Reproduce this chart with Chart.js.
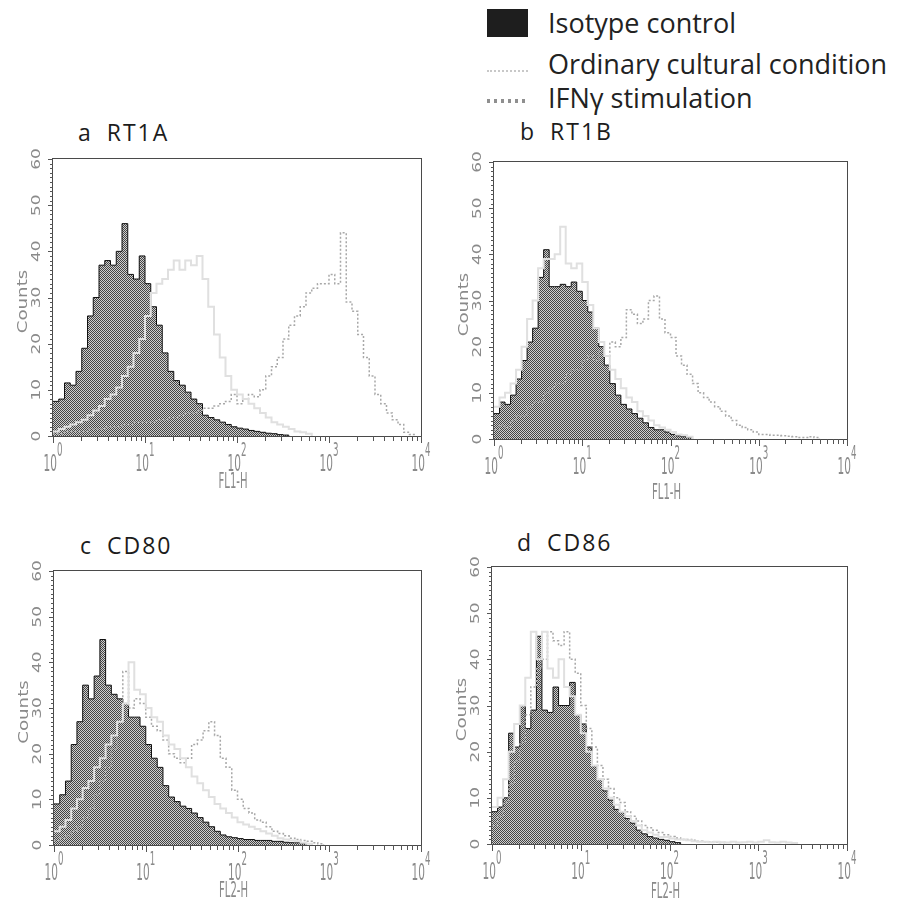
<!DOCTYPE html>
<html>
<head>
<meta charset="utf-8">
<script src="https://cdn.jsdelivr.net/npm/chart.js@4.4.0/dist/chart.umd.min.js"></script>
<style>
  body { margin: 0; width: 900px; height: 911px; background: #fff; position: relative; overflow: hidden; font-family: 'Open Sans', sans-serif; }
  canvas { position: absolute; }
  .title { position: absolute; font-size: 23px; line-height: 23px; color: #1c1c1c; white-space: pre; letter-spacing: 2px; word-spacing: -1px; }
  .legend-text { position: absolute; left: 548px; font-size: 27px; line-height: 27px; color: #222; white-space: nowrap; }
  .swatch { position: absolute; left: 487px; width: 41px; }
</style>
</head>
<body>
<div class="swatch" style="top:9px;height:28px;background:#1e1e1e"></div>
<div class="swatch" style="top:70px;height:0;border-top:2px dotted #c8c8c8"></div>
<div class="swatch" style="top:99px;height:4px;background:repeating-linear-gradient(90deg,#8f8f8f 0 3px,transparent 3px 7px)"></div>
<div class="legend-text" id="leg0" style="top:9px"></div>
<div class="legend-text" id="leg1" style="top:50px"></div>
<div class="legend-text" id="leg2" style="top:84px"></div>

<div class="title" id="titleA" style="left:78px;top:121px"></div>
<div class="title" id="titleB" style="left:520px;top:120px"></div>
<div class="title" id="titleC" style="left:80px;top:534px"></div>
<div class="title" id="titleD" style="left:517px;top:531px"></div>

<canvas id="chartA" width="450" height="365" style="left:0;top:140px"></canvas>
<canvas id="chartB" width="450" height="370" style="left:450px;top:140px"></canvas>
<canvas id="chartC" width="450" height="361" style="left:0;top:550px"></canvas>
<canvas id="chartD" width="450" height="361" style="left:450px;top:550px"></canvas>

<script>
// labels
const seriesNames = ['Isotype control', 'Ordinary cultural condition', 'IFNγ stimulation'];
const panelTitles = ['a  RT1A', 'b  RT1B', 'c  CD80', 'd  CD86'];
const axisTitles = ['FL1-H', 'FL1-H', 'FL2-H', 'FL2-H'];
const decadeTicks = [1, 10, 100, 1000, 10000];
const countTicks = [0, 10, 20, 30, 40, 50, 60];

// histogram counts, 16 channels per decade starting at 10^0
const binsPerDecade = 16;

const rt1aIsotype = [7.5, 8, 11.5, 11, 14, 19, 26, 30, 37, 38, 37, 40, 46, 35, 34, 39, 33, 28, 24, 18, 14, 12, 11, 9.5, 8, 7, 4.5, 4, 3.5, 3, 2.5, 2, 1.7, 1.5, 1.2, 1, 0.8, 0.6, 0.5, 0.3, 0.2];
const rt1aOrdinary = [1, 1.5, 2, 2.5, 3, 3.5, 4.5, 5.5, 6.5, 8, 9, 10.5, 13, 15, 18, 21, 26, 31, 33, 34, 36, 38, 36, 38, 37, 39, 34, 28, 22, 17, 13, 10, 9, 8, 7, 6, 5, 4, 3, 2.5, 2, 1.5, 1, 0.8, 0.5];
const rt1aIfn = [0.5, 0.5, 1, 1, 1, 1, 1.5, 1.5, 1.5, 2, 2, 2, 2.5, 2.5, 3, 3, 3, 3, 3.5, 3.5, 4, 4, 4.5, 5, 5, 5.5, 6, 6, 6.5, 7, 7.5, 9, 7, 8, 9, 8.5, 10, 13, 15, 17, 21, 24, 26, 28, 31, 32, 33, 33, 35, 33, 44, 29, 27, 22, 17, 13, 9, 7, 5, 3.5, 2.5, 0.8, 0.3];

const rt1bIsotype = [5.5, 8, 7.5, 9.5, 13, 17, 21, 24, 35, 41, 33, 33, 33.5, 33, 34, 32, 30, 27.5, 24, 20, 16, 12, 9.5, 7.5, 6.5, 5.5, 4.5, 3.5, 2.5, 2, 2, 1.5, 1, 0.7, 0.5, 0.3];
const rt1bOrdinary = [7, 9, 10, 12, 15, 20, 26, 30, 37, 39, 39, 40, 46, 38, 37, 38, 34, 29, 24, 21, 18, 15, 13, 11, 9, 8, 6, 5, 4, 3, 2.5, 2, 1.5, 1, 0.8, 0.5];
const rt1bIfn = [2, 3, 2.5, 4, 5, 5, 7, 8, 8, 10, 11, 12, 12, 14, 15, 15, 17, 18, 17, 19, 18, 21, 20, 22, 28, 27, 25, 26, 30, 31, 26, 23, 22, 18, 16, 14, 12, 10, 9, 8, 7, 6, 5, 4, 3, 2.5, 2, 1.5, 1, 1, 0.8, 0.8, 0.7, 0.6, 0.5, 0.3, 0.3, 0.5, 0.3];

const cd80Isotype = [9, 11, 14, 22, 27, 35, 32, 37, 45, 35, 33, 32, 31, 28, 28, 26, 22, 19, 17, 13, 10.5, 9.5, 8.5, 8, 7, 6, 5, 4, 3, 2.2, 1.8, 1.6, 1.4, 1.2, 1.2, 1, 1, 1, 0.8, 0.8, 0.6, 0.5, 0.5, 0.3];
const cd80Ordinary = [3, 4, 5.5, 8, 10, 12.5, 14, 17, 19, 22, 24, 27, 31, 40, 34, 33, 30, 28, 27, 24, 22, 21, 19, 17, 15, 13.5, 12, 10.5, 9, 8, 7, 6, 5, 4.5, 4, 3.5, 3, 2.5, 2, 1.5, 1.2, 1, 0.8, 0.5, 0.3];
const cd80Ifn = [1, 1.5, 2, 3, 4, 6, 8, 11, 14, 17, 21, 27, 38, 30, 32, 31, 28, 26, 25, 23, 20, 19, 18, 19, 22, 23, 25, 27, 24, 19, 17, 12, 10, 8, 7, 5.5, 5, 4, 3, 2.5, 2, 1.5, 1.2, 1, 0.8, 0.5, 0.3];

const cd86Isotype = [7, 8, 10, 24, 21, 30, 25, 29, 45, 29, 28.5, 34, 30, 30, 35, 28, 26, 21, 17, 14, 11.5, 9.5, 7.5, 7, 5.5, 4.5, 3, 2.2, 1.6, 1.3, 1, 0.8, 0.5, 0.3];
const cd86Ordinary = [8, 10, 14, 20, 26, 30, 36, 46, 40, 46, 38, 36, 40, 34, 32, 28, 24, 20, 17, 14, 12, 10, 8.5, 7, 6, 5, 4, 3, 2.5, 2, 1.5, 1.5, 1.2, 1, 1, 0.8, 0.6, 0.5, 0.5, 0.4, 0.5, 0.4, 0.3, 0.5, 0.3, 0.4, 0.5, 0.3, 0.5, 0.8, 0.4, 0.3, 0.5, 0.3, 0.2];
const cd86Ifn = [4, 6, 9, 13, 18, 22, 28, 34, 38, 40, 46, 44, 43, 46, 40, 37, 30, 25, 21, 17, 14, 12, 10, 9, 7, 6, 5, 4, 3.5, 3, 2.5, 2, 1.6, 1.3, 1, 1, 0.8, 0.6, 0.5, 0.5, 0.4, 0.3];

// legend + titles
seriesNames.forEach((n, i) => { document.getElementById('leg' + i).textContent = n; });
['titleA', 'titleB', 'titleC', 'titleD'].forEach((id, i) => { document.getElementById(id).textContent = panelTitles[i]; });

function toPoints(counts) {
  const pts = counts.map((c, i) => ({ x: Math.pow(10, i / binsPerDecade), y: c }));
  pts.push({ x: Math.pow(10, counts.length / binsPerDecade), y: 0 });
  return pts;
}

// minor tick values: 1..9 in every decade, and every single count
const minorX = [];
decadeTicks.slice(0, -1).forEach(d => { for (let m = 1; m < 10; m++) minorX.push(m * d); });
minorX.push(decadeTicks[decadeTicks.length - 1]);
const minorY = [];
for (let c = countTicks[0]; c <= countTicks[countTicks.length - 1]; c++) minorY.push(c);

function stretchedText(ctx, text, x, y, o) {
  ctx.save();
  ctx.translate(x, y);
  if (o.rotate) ctx.rotate(o.rotate);
  ctx.scale(o.sx, o.sy);
  ctx.font = o.font;
  ctx.textAlign = o.align || 'center';
  ctx.textBaseline = o.baseline || 'middle';
  ctx.fillText(text, 0, 0);
  ctx.restore();
}

// frame, tick marks, tick labels and axis titles (stretched like the scanned cytometer plots)
const axisText = {
  id: 'axisText',
  afterDraw(chart, args, opts) {
    const { ctx, chartArea: a, scales: { x, y } } = chart;
    ctx.save();
    ctx.strokeStyle = '#4a4a4a';
    ctx.lineWidth = 1;
    ctx.strokeRect(a.left - 0.5, a.top - 0.5, a.right - a.left + 1, a.bottom - a.top + 1);

    ctx.strokeStyle = '#555';
    ctx.beginPath();
    minorX.forEach(v => {
      const px = Math.round(x.getPixelForValue(v)) + 0.5;
      const len = decadeTicks.includes(v) ? 7 : 5;
      ctx.moveTo(px, a.bottom);
      ctx.lineTo(px, a.bottom + len);
    });
    minorY.forEach(v => {
      const py = Math.round(y.getPixelForValue(v)) + 0.5;
      const len = v % 10 === 0 ? 5 : 3;
      ctx.moveTo(a.left - len, py);
      ctx.lineTo(a.left, py);
    });
    ctx.stroke();

    ctx.fillStyle = '#8a8a8a';
    countTicks.forEach(v => {
      stretchedText(ctx, String(v), a.left - 16, y.getPixelForValue(v),
        { font: '13px "DejaVu Sans"', sx: 1.3, sy: 1, rotate: -Math.PI / 2 });
    });

    const baseFont = '17px "DejaVu Sans"', expFont = '14px "DejaVu Sans"';
    const sx = 0.62, sy = 1.4;
    decadeTicks.forEach(v => {
      const px = x.getPixelForValue(v);
      const exp = String(Math.round(Math.log10(v)));
      ctx.font = baseFont;
      const wb = ctx.measureText('10').width * sx;
      ctx.font = expFont;
      const we = ctx.measureText(exp).width * sx;
      const start = px - (wb + we) / 2;
      stretchedText(ctx, '10', start, a.bottom + 35, { font: baseFont, sx, sy, align: 'left', baseline: 'alphabetic' });
      stretchedText(ctx, exp, start + wb, a.bottom + 20, { font: expFont, sx, sy, align: 'left', baseline: 'alphabetic' });
    });

    stretchedText(ctx, opts.xTitle, (a.left + a.right) / 2 - 4, a.bottom + opts.xTitleGap,
      { font: '14px "DejaVu Sans"', sx: 0.72, sy: 1.45 });
    stretchedText(ctx, 'Counts', a.left - 30, (a.top + a.bottom) / 2 + 4,
      { font: '14px "DejaVu Sans"', sx: 1.3, sy: 1, rotate: -Math.PI / 2 });
    ctx.restore();
  }
};

function ditherFill(ctx) {
  const tile = document.createElement('canvas');
  tile.width = 2; tile.height = 2;
  const g = tile.getContext('2d');
  g.fillStyle = '#cfcfcf';
  g.fillRect(0, 0, 2, 2);
  g.fillStyle = '#444';
  g.fillRect(0, 0, 1, 1);
  g.fillRect(1, 1, 1, 1);
  return ctx.createPattern(tile, 'repeat');
}

const panels = [
  { canvas: 'chartA', series: [rt1aIsotype, rt1aOrdinary, rt1aIfn], xTitle: axisTitles[0], padTop: 19, padRight: 29, yWidth: 53, xHeight: 69, xTitleGap: 47 },
  { canvas: 'chartB', series: [rt1bIsotype, rt1bOrdinary, rt1bIfn], xTitle: axisTitles[1], padTop: 22, padRight: 53, yWidth: 44, xHeight: 71, xTitleGap: 55 },
  { canvas: 'chartC', series: [cd80Isotype, cd80Ordinary, cd80Ifn], xTitle: axisTitles[2], padTop: 21, padRight: 29, yWidth: 54, xHeight: 66, xTitleGap: 47 },
  { canvas: 'chartD', series: [cd86Isotype, cd86Ordinary, cd86Ifn], xTitle: axisTitles[3], padTop: 17, padRight: 53, yWidth: 42, xHeight: 67, xTitleGap: 49 }
];

panels.forEach(p => {
  const ctx = document.getElementById(p.canvas).getContext('2d');
  new Chart(ctx, {
    type: 'line',
    data: {
      datasets: [
        { label: seriesNames[0], data: toPoints(p.series[0]), stepped: true, borderColor: '#111', borderWidth: 1,
          backgroundColor: ditherFill(ctx), fill: 'origin', pointRadius: 0, order: 3 },
        { label: seriesNames[1], data: toPoints(p.series[1]), stepped: true, borderColor: '#e0e0e0', borderWidth: 2,
          fill: false, pointRadius: 0, order: 1 },
        { label: seriesNames[2], data: toPoints(p.series[2]), stepped: true, borderColor: '#a8a8a8', borderWidth: 1.5,
          borderDash: [2, 2], fill: false, pointRadius: 0, order: 2 }
      ]
    },
    options: {
      responsive: false,
      animation: false,
      devicePixelRatio: 1,
      layout: { padding: { top: p.padTop, right: p.padRight, left: 0, bottom: 0 } },
      plugins: {
        legend: { display: false },
        tooltip: { enabled: false },
        axisText: { xTitle: p.xTitle, xTitleGap: p.xTitleGap }
      },
      scales: {
        x: {
          type: 'logarithmic', min: 1, max: 10000,
          ticks: { display: false },
          grid: { display: false },
          border: { display: false },
          afterFit: s => { s.height = p.xHeight; }
        },
        y: {
          type: 'linear', min: 0, max: 60,
          ticks: { display: false },
          grid: { display: false },
          border: { display: false },
          afterFit: s => { s.width = p.yWidth; }
        }
      }
    },
    plugins: [axisText]
  });
});
</script>
</body>
</html>
